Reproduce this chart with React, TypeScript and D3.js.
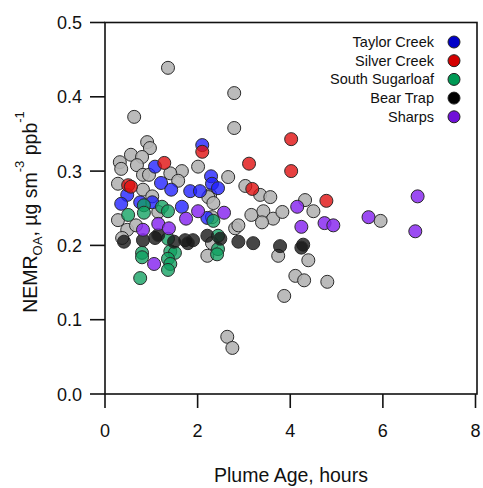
import React from "react";
import * as d3 from "d3";

const W = 483;
const H = 488;
const xTicks = [0, 2, 4, 6, 8];
const yTicks = [0.0, 0.1, 0.2, 0.3, 0.4, 0.5];

// [plume age (h), NEMR]
const otherFires: [number, number][] = [
  [1.36, 0.439], [2.79, 0.405], [0.63, 0.373], [2.79, 0.358], [0.91, 0.339], [0.97, 0.331],
  [0.56, 0.322], [0.8, 0.319], [0.32, 0.312], [0.35, 0.303], [0.69, 0.308], [2.01, 0.306],
  [1.66, 0.3], [1.41, 0.297], [0.82, 0.295], [0.95, 0.295], [2.66, 0.292], [0.28, 0.283],
  [1.58, 0.287], [0.82, 0.275], [1.02, 0.266], [2.27, 0.268], [2.23, 0.265], [2.34, 0.257],
  [3.03, 0.28], [3.35, 0.268], [3.57, 0.265], [4.32, 0.261], [4.5, 0.246], [3.16, 0.241],
  [3.42, 0.246], [3.63, 0.236], [3.83, 0.245], [3.39, 0.231], [2.81, 0.223], [2.88, 0.227],
  [2.31, 0.238], [2.31, 0.203], [0.28, 0.234], [0.48, 0.221], [0.67, 0.227], [0.37, 0.21],
  [2.21, 0.186], [3.74, 0.186], [4.39, 0.18], [4.11, 0.159], [4.3, 0.153], [4.8, 0.151],
  [3.87, 0.132], [2.64, 0.077], [2.75, 0.062], [5.95, 0.233], [1.15, 0.245],
];
const taylorCreek: [number, number][] = [
  [2.1, 0.335], [1.08, 0.306], [2.29, 0.293], [1.21, 0.284], [2.31, 0.283], [2.44, 0.277],
  [1.43, 0.275], [1.84, 0.273], [2.05, 0.273], [0.48, 0.268], [0.35, 0.256], [0.76, 0.258],
  [1.02, 0.258], [1.66, 0.252], [2.21, 0.237],
];
const silverCreek: [number, number][] = [
  [2.1, 0.326], [1.28, 0.311], [0.5, 0.281], [0.56, 0.279], [4.02, 0.343], [4.02, 0.3],
  [3.11, 0.31], [3.18, 0.276], [4.78, 0.26],
];
const southSugarloaf: [number, number][] = [
  [0.84, 0.254], [0.84, 0.244], [1.23, 0.252], [1.36, 0.246], [0.5, 0.241], [2.34, 0.233],
  [1.36, 0.209], [2.44, 0.213], [2.44, 0.195], [2.42, 0.188], [0.8, 0.19], [0.8, 0.184],
  [1.41, 0.192], [1.51, 0.19], [1.36, 0.182], [1.41, 0.175], [1.36, 0.167], [0.76, 0.156],
];
const bearTrap: [number, number][] = [
  [0.41, 0.205], [0.82, 0.207], [1.08, 0.21], [1.15, 0.214], [1.49, 0.205], [1.73, 0.207],
  [1.9, 0.207], [1.79, 0.203], [2.21, 0.213], [2.49, 0.209], [2.88, 0.205], [3.2, 0.203],
  [3.78, 0.199], [4.28, 0.201], [4.24, 0.197],
];
const sharps: [number, number][] = [
  [2.01, 0.246], [2.57, 0.244], [1.75, 0.236], [1.15, 0.229], [1.38, 0.223], [0.82, 0.221],
  [1.06, 0.175], [4.15, 0.252], [4.24, 0.225], [4.74, 0.23], [4.93, 0.227], [6.75, 0.266],
  [5.69, 0.238], [6.7, 0.219],
];

const legendNames = ["Taylor Creek", "Silver Creek", "South Sugarloaf", "Bear Trap", "Sharps"];
const legendColors = ["#0000c8", "#d40000", "#009a55", "#000000", "#7010d8"];

const series = [
  { data: otherFires, fill: "#b4b4b4", op: 0.9 },
  { data: taylorCreek, fill: "#1e1eff", op: 0.78 },
  { data: silverCreek, fill: "#e01010", op: 0.8 },
  { data: southSugarloaf, fill: "#10a060", op: 0.78 },
  { data: bearTrap, fill: "#181818", op: 0.8 },
  { data: sharps, fill: "#8a2cf0", op: 0.85 },
];

export default function App() {
  const x = d3.scaleLinear().domain([0, 8]).range([105, 475.5]);
  const y = d3.scaleLinear().domain([0, 0.5]).range([394, 22.5]);
  const font = "Arial, 'Liberation Sans', sans-serif";
  return (
    <svg width={W} height={H} style={{ position: "absolute", left: 0, top: 0 }} fontFamily={font}>
      <rect x={0} y={0} width={W} height={H} fill="#fff" />
      {series.map((s, si) => (
        <g key={si}>
          {s.data.map((d, i) => (
            <circle key={i} cx={x(d[0])} cy={y(d[1])} r={6.5} fill={s.fill} fillOpacity={s.op}
              stroke="#2a2a2a" strokeWidth={1} />
          ))}
        </g>
      ))}
      <rect x={105} y={22.5} width={372} height={371.5} fill="none" stroke="#111" strokeWidth={1.6} />
      {xTicks.map((t) => (
        <g key={t}>
          <line x1={x(t)} x2={x(t)} y1={394} y2={408} stroke="#111" strokeWidth={1.6} />
          <text x={x(t)} y={437} fontSize={18} textAnchor="middle" fill="#111">{t}</text>
        </g>
      ))}
      {yTicks.map((t) => (
        <g key={t}>
          <line x1={90} x2={105} y1={y(t)} y2={y(t)} stroke="#111" strokeWidth={1.6} />
          <text x={82} y={y(t) + 6.5} fontSize={18} textAnchor="end" fill="#111">{t.toFixed(1)}</text>
        </g>
      ))}
      <text x={291} y={482} fontSize={19.5} textAnchor="middle" fill="#111">Plume Age, hours</text>
      <text transform={`translate(37, 212) rotate(-90)`} fontSize={19.5} textAnchor="middle" fill="#111">
        NEMR
        <tspan fontSize={13} dy={5}>OA</tspan>
        <tspan dy={-5}>, µg sm</tspan>
        <tspan fontSize={13} dy={-13}>-3</tspan>
        <tspan dy={13}> ppb</tspan>
        <tspan fontSize={13} dy={-13}>-1</tspan>
      </text>
      {legendNames.map((n, i) => (
        <g key={n}>
          <text x={434} y={42 + i * 18.7 + 5} fontSize={14.5} textAnchor="end" fill="#111">{n}</text>
          <circle cx={454} cy={42 + i * 18.7} r={6} fill={legendColors[i]} stroke="#222" strokeWidth={1} />
        </g>
      ))}
    </svg>
  );
}
